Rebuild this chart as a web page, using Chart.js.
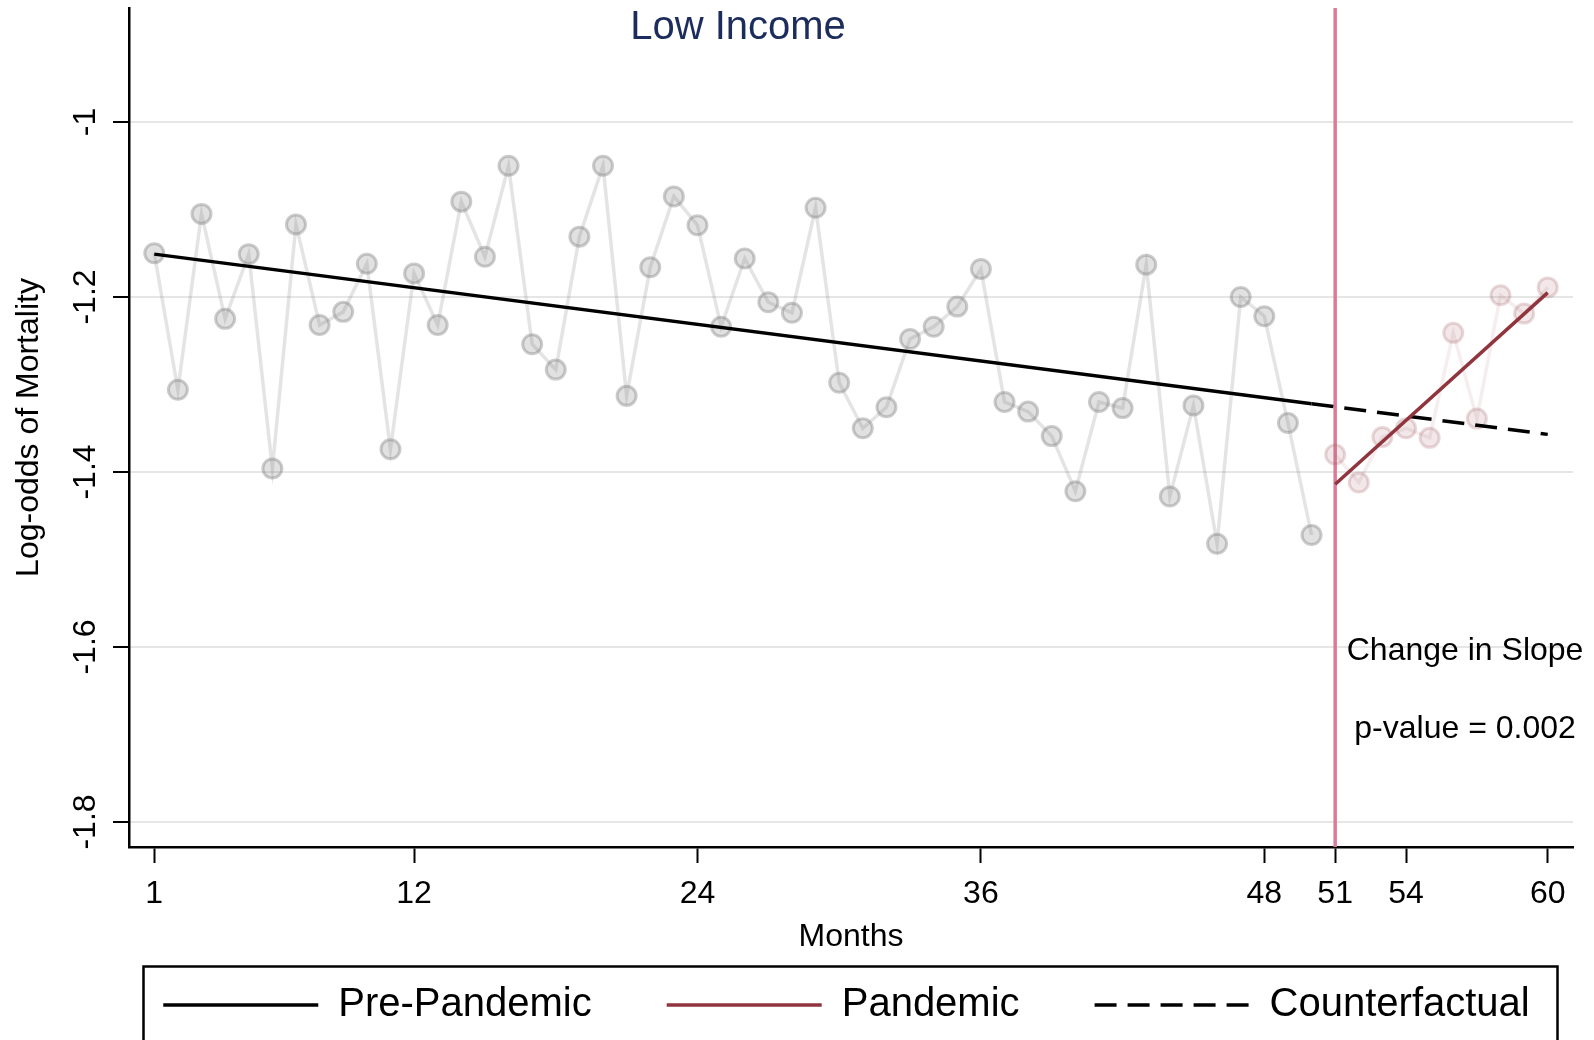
<!DOCTYPE html>
<html>
<head>
<meta charset="utf-8">
<title>Low Income</title>
<script src="https://cdn.jsdelivr.net/npm/chart.js@4.4.1/dist/chart.umd.min.js"></script>
<style>
    html, body { margin: 0; padding: 0; background: #fff; }
    #wrap { width: 1594px; height: 1040px; }
</style>
</head>
<body>
<div id="wrap"><canvas id="myChart"></canvas></div>
<script>
const months = [
    1, 2, 3, 4, 5, 6, 7, 8, 9, 10, 11, 12, 13, 14, 15, 16, 17, 18, 19, 20,
    21, 22, 23, 24, 25, 26, 27, 28, 29, 30, 31, 32, 33, 34, 35, 36, 37, 38, 39, 40,
    41, 42, 43, 44, 45, 46, 47, 48, 49, 50, 51, 52, 53, 54, 55, 56, 57, 58, 59, 60
];
const logOdds = [
    -1.150, -1.306, -1.105, -1.225, -1.151, -1.396, -1.117, -1.232, -1.217, -1.162,
    -1.374, -1.173, -1.232, -1.091, -1.154, -1.050, -1.254, -1.283, -1.131, -1.050,
    -1.313, -1.166, -1.085, -1.118, -1.234, -1.156, -1.206, -1.218, -1.098, -1.298,
    -1.350, -1.326, -1.248, -1.234, -1.211, -1.168, -1.320, -1.331, -1.359, -1.422,
    -1.320, -1.327, -1.163, -1.428, -1.324, -1.482, -1.200, -1.222, -1.344, -1.472,
    -1.380, -1.412, -1.360, -1.350, -1.361, -1.241, -1.339, -1.198, -1.219, -1.189
];
const interventionMonth = 51;

// fitted segments (endpoints)
const preFitMonths = [1, 50];
const preFitValues = [-1.151, -1.322];
const pandemicFitMonths = [51, 60];
const pandemicFitValues = [-1.414, -1.195];
const counterMonths = [50, 60];
const counterValues = [-1.322, -1.357];

const xTicks = [1, 12, 24, 36, 48, 51, 54, 60];
const yTicks = [-1.8, -1.6, -1.4, -1.2, -1];

const seriesNames = ['Pre-Pandemic', 'Pandemic', 'Counterfactual'];
const noteLines = ['Change in Slope', 'p-value = 0.002'];

const FONT = '"Liberation Sans", Arial, Helvetica, sans-serif';
const legendShift = 60;

function toPoints(xs, ys) {
    return xs.map((x, i) => ({ x: x, y: ys[i] }));
}

const prePoints = toPoints(months, logOdds).filter(p => p.x < interventionMonth);
const pandemicPoints = toPoints(months, logOdds).filter(p => p.x >= interventionMonth);

Chart.defaults.font.family = FONT;
Chart.defaults.color = '#000';

const extras = {
    id: 'extras',
    afterLayout(chart) {
        chart.legend.left += legendShift;
        chart.legend.right += legendShift;
    },
    beforeDatasetsDraw(chart) {
        const { ctx, chartArea, scales } = chart;
        const x = scales.x.getPixelForValue(interventionMonth);
        ctx.save();
        ctx.strokeStyle = '#dc7b99';
        ctx.lineWidth = 3.5;
        ctx.beginPath();
        ctx.moveTo(x, chartArea.top);
        ctx.lineTo(x, chartArea.bottom);
        ctx.stroke();
        ctx.restore();
    },
    afterDraw(chart) {
        const { ctx, scales } = chart;
        ctx.save();
        ctx.textAlign = 'center';
        ctx.textBaseline = 'alphabetic';

        ctx.font = '40px ' + FONT;
        ctx.fillStyle = '#1c2c5c';
        ctx.fillText('Low Income', 738, 39);

        ctx.font = '32px ' + FONT;
        ctx.fillStyle = '#000';
        const nx = scales.x.getPixelForValue(56.5);
        ctx.fillText(noteLines[0], nx, scales.y.getPixelForValue(-1.615));
        ctx.fillText(noteLines[1], nx, scales.y.getPixelForValue(-1.704));

        // legend frame
        ctx.lineWidth = 2.5;
        ctx.strokeStyle = '#000';
        ctx.strokeRect(143.5, 966.5, 1414, 120);
        ctx.restore();
    }
};

const ctx = document.getElementById('myChart');

const chart = new Chart(ctx, {
    type: 'line',
    data: {
        datasets: [
            {
                label: seriesNames[0],
                data: toPoints(preFitMonths, preFitValues),
                borderColor: '#000',
                borderWidth: 3.5,
                pointRadius: 0
            },
            {
                label: seriesNames[1],
                data: toPoints(pandemicFitMonths, pandemicFitValues),
                borderColor: '#90353d',
                borderWidth: 3.5,
                pointRadius: 0
            },
            {
                label: seriesNames[2],
                data: toPoints(counterMonths, counterValues),
                borderColor: '#000',
                borderWidth: 3.5,
                borderDash: [22, 11],
                pointRadius: 0
            },
            {
                label: 'observed pre',
                data: prePoints,
                borderColor: 'rgba(120,120,120,0.2)',
                borderWidth: 3.5,
                pointRadius: 9.5,
                pointBorderWidth: 3,
                pointBackgroundColor: 'rgba(120,120,120,0.22)',
                pointBorderColor: 'rgba(120,120,120,0.38)'
            },
            {
                label: 'observed pandemic',
                data: pandemicPoints,
                borderColor: 'rgba(160,90,100,0.11)',
                borderWidth: 3.5,
                pointRadius: 9.5,
                pointBorderWidth: 3,
                pointBackgroundColor: 'rgba(160,90,100,0.14)',
                pointBorderColor: 'rgba(160,90,100,0.24)'
            }
        ]
    },
    options: {
        responsive: true,
        maintainAspectRatio: false,
        animation: false,
        events: [],
        layout: {
            autoPadding: false,
            padding: { left: 0, right: 21, top: 8, bottom: 5 }
        },
        plugins: {
            tooltip: { enabled: false },
            legend: {
                position: 'bottom',
                labels: {
                    font: { size: 40 },
                    color: '#000',
                    usePointStyle: true,
                    pointStyle: 'line',
                    pointStyleWidth: 155,
                    padding: 75,
                    generateLabels: chart => {
                        return chart.data.datasets.slice(0, 3).map((ds, i) => ({
                            text: ds.label,
                            datasetIndex: i,
                            strokeStyle: ds.borderColor,
                            fillStyle: ds.borderColor,
                            fontColor: '#000',
                            lineWidth: ds.borderWidth,
                            lineDash: ds.borderDash || [],
                            pointStyle: 'line',
                            hidden: false
                        }));
                    }
                }
            }
        },
        scales: {
            x: {
                type: 'linear',
                min: -0.07,
                max: 61.07,
                afterBuildTicks: axis => { axis.ticks = xTicks.map(v => ({ value: v })); },
                afterFit: axis => { axis.height = 63; },
                grid: {
                    drawOnChartArea: false,
                    drawTicks: true,
                    tickLength: 16,
                    tickColor: '#000',
                    tickWidth: 2
                },
                border: { color: '#000', width: 2.5 },
                ticks: {
                    autoSkip: false,
                    maxRotation: 0,
                    padding: 12,
                    font: { size: 32 },
                    color: '#000'
                },
                title: {
                    display: true,
                    text: 'Months',
                    font: { size: 32 },
                    color: '#000',
                    padding: { top: 0, bottom: -46 }
                }
            },
            y: {
                min: -1.8286,
                max: -0.8697,
                afterBuildTicks: axis => { axis.ticks = yTicks.map(v => ({ value: v })); },
                afterFit: axis => {
                    axis.width = 129;
                    axis.paddingTop = 0;
                    axis.paddingBottom = 0;
                },
                grid: {
                    color: '#e6e6e6',
                    lineWidth: 2,
                    drawTicks: true,
                    tickLength: 16,
                    tickColor: '#000',
                    tickWidth: 2
                },
                border: { color: '#000', width: 2.5 },
                ticks: {
                    autoSkip: false,
                    minRotation: 90,
                    maxRotation: 90,
                    crossAlign: 'center',
                    padding: -1,
                    font: { size: 32 },
                    color: '#000',
                    callback: v => String(v)
                },
                title: {
                    display: true,
                    text: 'Log-odds of Mortality',
                    font: { size: 32 },
                    color: '#000',
                    padding: { top: 10, bottom: 0 }
                }
            }
        }
    },
    plugins: [extras]
});
</script>
</body>
</html>
